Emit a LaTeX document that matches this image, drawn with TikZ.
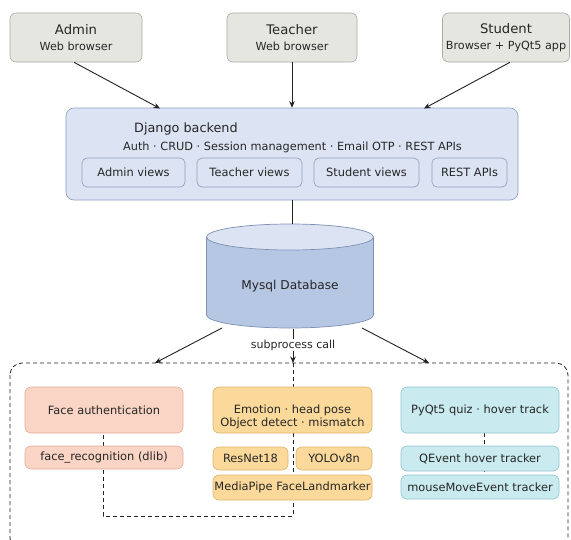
\documentclass[tikz,border=0pt]{standalone}
\usepackage{fontspec}
\setmainfont{DejaVu Sans}
\usetikzlibrary{arrows.meta}
\definecolor{topfill}{HTML}{E6E6E1}
\definecolor{topdraw}{HTML}{A9A9A6}
\definecolor{djfill}{HTML}{DCE4F4}
\definecolor{djdraw}{HTML}{8E9CC0}
\definecolor{cyltop}{HTML}{DCE3F2}
\definecolor{cylside}{HTML}{B6C7E4}
\definecolor{cyldraw}{HTML}{7E8FB5}
\definecolor{fafill}{HTML}{FAD4C4}
\definecolor{fadraw}{HTML}{E2AC96}
\definecolor{emfill}{HTML}{FBD99A}
\definecolor{emdraw}{HTML}{DDB36A}
\definecolor{pqfill}{HTML}{C9EAEE}
\definecolor{pqdraw}{HTML}{8FC6CC}
\definecolor{ink}{HTML}{222222}
\definecolor{txt}{HTML}{262626}
\newcommand{\fs}[1]{\fontsize{#1}{#1}\selectfont}
\tikzset{
  box/.style={rounded corners=6pt, line width=0.6pt, inner sep=0pt, align=center, text=txt},
  topbox/.style={box, fill=topfill, draw=topdraw, minimum height=49pt},
  djbox/.style={box, fill=djfill, draw=djdraw, rounded corners=8pt},
  viewbox/.style={box, fill=djfill, draw=djdraw, minimum height=29pt, rounded corners=5pt, font=\fs{11.4}},
  fabox/.style={box, fill=fafill, draw=fadraw, font=\fs{11.4}},
  embox/.style={box, fill=emfill, draw=emdraw, font=\fs{11.4}},
  pqbox/.style={box, fill=pqfill, draw=pqdraw, font=\fs{11.4}},
  arr/.style={draw=ink, line width=0.9pt, -{Stealth[length=6.5pt,width=5.5pt]}},
  conn/.style={draw=ink, line width=0.9pt},
  dashline/.style={draw=ink, line width=0.8pt, dash pattern=on 4pt off 3pt},
  lbl/.style={inner sep=0pt, text=txt, align=center},
}
\begin{document}
\begin{tikzpicture}[x=1pt,y=-1pt]
\useasboundingbox[fill=white] (0,0) rectangle (571,539);
\begin{scope}
\clip (0,0) rectangle (571,539);
\draw[dashline, rounded corners=12pt] (10,363) rectangle (568,550);
\end{scope}
% top boxes
\node[topbox, minimum width=132pt] (admin) at (76,37.5) {{\fs{13.2}Admin}\\[4pt]{\fs{11.2}Web browser}};
\node[topbox, minimum width=130pt] (teacher) at (292,37.5) {{\fs{13.2}Teacher}\\[4pt]{\fs{11.2}Web browser}};
\node[topbox, minimum width=127pt] (student) at (506,37.5) {{\fs{13.2}Student}\\[4pt]{\fs{11.2}Browser + PyQt5 app}};
% django
\node[djbox, minimum width=452pt, minimum height=92pt] (django) at (292,154) {};
\node[lbl, anchor=west, font=\fs{12.8}] (djtitle) at (134,129) {Django backend};
\node[lbl, font=\fs{11.3}] (djsub) at (292.5,147) {Auth · CRUD · Session management · Email OTP · REST APIs};
\node[viewbox, minimum width=103pt] (av) at (133.5,172.5) {Admin views};
\node[viewbox, minimum width=105pt] (tv) at (249.5,172.5) {Teacher views};
\node[viewbox, minimum width=105pt] (sv) at (366.5,172.5) {Student views};
\node[viewbox, minimum width=75pt] (ra) at (469.5,172.5) {REST APIs};
% arrows top
\draw[arr] (admin.south) ++(-2,0) coordinate (a1) -- (160,108.5) coordinate (a2);
\draw[arr] (teacher.south) -- (teacher.south |- django.north);
\draw[arr] (student.south) ++(4,0) coordinate (s1) -- (424,108.5) coordinate (s2);
% database cylinder
\node[inner sep=0pt, minimum width=167pt, minimum height=104pt] (db) at (290,276) {};
\fill[cylside] (206.5,237) rectangle (373.5,315);
\fill[cylside] (290,315) ellipse [x radius=83.5, y radius=13];
\draw[cyldraw, line width=0.7pt] (206.5,237) -- (206.5,315) arc[start angle=180, end angle=0, x radius=83.5, y radius=13] -- (373.5,237);
\draw[cyldraw, line width=0.7pt, fill=cyltop] (290,237) ellipse [x radius=83.5, y radius=13];
\node[lbl, font=\fs{12.2}] (dbtxt) at (290,286) {Mysql Database};
\draw[conn] (django.south -| teacher.south) -- (292,224);
% arrows from db
\draw[arr] (222,328) coordinate (d1) -- (155,363) coordinate (d2);
\draw[arr] (362,328) coordinate (d3) -- (429,363) coordinate (d4);
\draw[arr] (293,329) coordinate (d5) -- (293,363) coordinate (d6);
\node[lbl, fill=white, inner sep=1pt, font=\fs{11}] (sub) at (293,345) {subprocess call};
% dashed connectors (behind boxes)
\draw[dashline] (293,363) -- (293,516) -- (103,516) -- (103,433);
\draw[dashline] (484,433) -- (484,475);
% bottom boxes
\node[fabox, minimum width=158pt, minimum height=46pt] (fa) at (104,410) {Face authentication};
\node[fabox, minimum width=158pt, minimum height=23pt] (fr) at (104,457.5) {face\_recognition (dlib)};
\node[embox, minimum width=159pt, minimum height=46pt] (emo) at (292.5,410) {};
\node[lbl, font=\fs{11.4}] (emotxt) at (292.5,417) {Emotion · head pose\\[1pt]Object detect · mismatch};
\node[embox, minimum width=75pt, minimum height=23pt] (rn) at (250.5,458.5) {ResNet18};
\node[embox, minimum width=76pt, minimum height=23pt] (yo) at (334,458.5) {YOLOv8n};
\node[embox, minimum width=159pt, minimum height=25pt] (mp) at (292.5,487.5) {MediaPipe FaceLandmarker};
\node[pqbox, minimum width=158pt, minimum height=46pt] (pq) at (480,410) {PyQt5 quiz · hover track};
\node[pqbox, minimum width=158pt, minimum height=25pt] (qe) at (480,458.5) {QEvent hover tracker};
\node[pqbox, minimum width=158pt, minimum height=24pt] (mm) at (480,487) {mouseMoveEvent tracker};
\end{tikzpicture}
\end{document}
